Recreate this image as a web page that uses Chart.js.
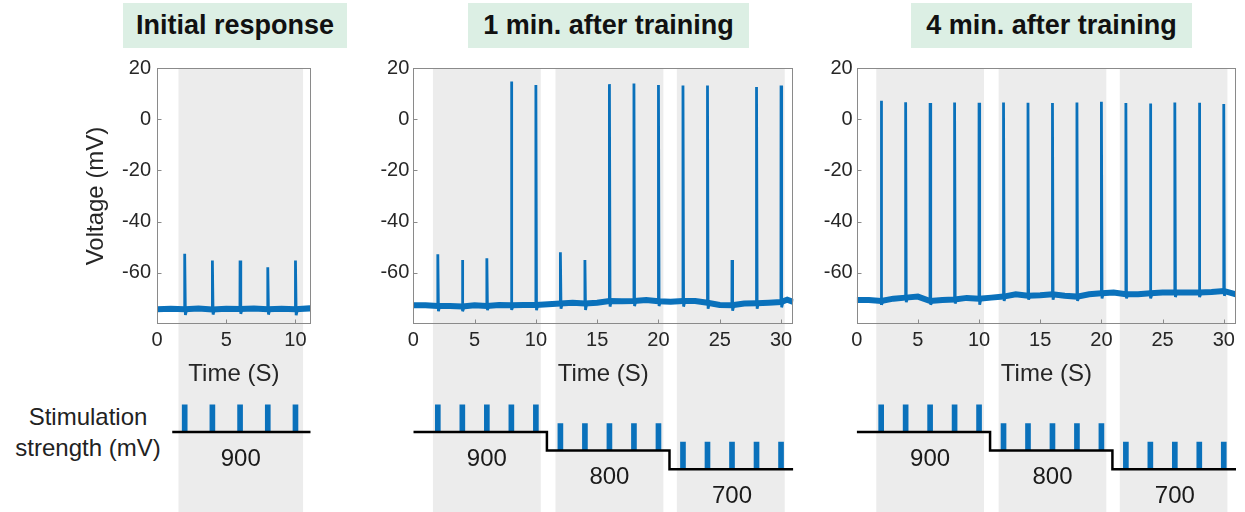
<!DOCTYPE html>
<html><head><meta charset="utf-8">
<script src="https://cdn.jsdelivr.net/npm/chart.js@4.4.1/dist/chart.umd.min.js"></script>
<style>
html,body{margin:0;padding:0;background:#fff;width:1245px;height:512px;overflow:hidden;position:relative;font-family:"Liberation Sans",Arial,Helvetica,sans-serif;}
canvas{position:absolute;}
.title{position:absolute;top:3px;height:45px;line-height:45px;background:#dcefe4;font-weight:bold;font-size:27px;text-align:center;color:#111;white-space:nowrap;}
.stim{position:absolute;left:0;top:401px;width:176px;font-size:24px;line-height:31px;text-align:center;color:#222;}
</style></head><body>
<div class="title" id="t0" style="left:123px;width:224px"></div>
<div class="title" id="t1" style="left:468px;width:281px"></div>
<div class="title" id="t2" style="left:911px;width:281px"></div>
<div class="stim" id="stimLabel"></div>
<canvas id="top0" width="320" height="390" style="left:0;top:0"></canvas>
<canvas id="bot0" width="320" height="122" style="left:0;top:390px"></canvas>
<canvas id="top1" width="462" height="390" style="left:340px;top:0"></canvas>
<canvas id="bot1" width="462" height="122" style="left:340px;top:390px"></canvas>
<canvas id="top2" width="435" height="390" style="left:810px;top:0"></canvas>
<canvas id="bot2" width="435" height="122" style="left:810px;top:390px"></canvas>
<script>
// ---------- data ----------
const titles = ['Initial response', '1 min. after training', '4 min. after training'];
const xAxisTitle = 'Time (S)';
const yAxisTitle = 'Voltage (mV)';
const stimAxisLines = ['Stimulation', 'strength (mV)'];

const yTicks = [20, 0, -20, -40, -60];
const xTicks1 = [0, 5, 10];
const xTicks2 = [0, 5, 10, 15, 20, 25, 30];

// Panel 1: initial response
const baseTimes1 = [0, 1, 2, 3, 4, 5, 6, 7, 8, 9, 10, 11, 11.1];
const baseValues1 = [-74.2, -74.0, -74.2, -73.9, -74.3, -74.0, -74.1, -73.9, -74.2, -74.0, -74.2, -73.9, -74.0];
const spikeTimes1 = [2, 4, 6, 8, 10];
const spikePeaks1 = [-52.6, -55.2, -55.2, -57.8, -55.2];
const spikeTroughs1 = [-76.5, -76.3, -76.0, -76.3, -76.6];
const bands1 = [[1.55, 10.55]];
const stimTimes1 = [2, 4, 6, 8, 10];
const stimLevels1 = [900, 900, 900, 900, 900];
const stepTimes1 = [1.1, 11.1];
const stepLevels1 = [900, 900];
const levelLabelX1 = [6.05];
const levelLabels1 = ['900'];

// Panel 2: 1 min. after training
const baseTimes2 = [0,1,2,3,4,5,6,7,8,9,10,11,12,13,14,15,16,17,18,19,20,21,22,23,24,25,26,27,28,29,30,30.5,31];
const baseValues2 = [-72.7,-72.7,-73.0,-73.0,-73.2,-72.7,-73.0,-72.6,-72.7,-72.6,-72.6,-72.3,-72.0,-71.7,-72.0,-71.7,-71.0,-71.1,-71.0,-70.6,-71.1,-71.3,-71.0,-71.0,-71.7,-72.6,-72.7,-72.0,-71.9,-71.7,-71.4,-70.5,-71.4];
const spikeTimes2 = [2, 4, 6, 8, 10, 12, 14, 16, 18, 20, 22, 24, 26, 28, 30];
const spikePeaks2 = [-52.8, -55.0, -54.3, 14.7, 13.4, -52.0, -55.0, 13.7, 13.9, 13.4, 13.2, 13.2, -55.0, 12.6, 13.2];
const spikeTroughs2 = [-75.0, -75.0, -74.6, -74.5, -74.6, -74.0, -74.5, -73.2, -73.0, -73.0, -73.2, -74.0, -74.8, -74.0, -73.5];

// Panel 3: 4 min. after training
const baseTimes3 = [0,1,2,3,4,5,6,7,8,9,10,11,12,13,14,15,16,17,18,19,20,21,22,23,24,25,26,27,28,29,30,31];
const baseValues3 = [-70.6,-70.6,-71.0,-70.1,-69.7,-69.3,-71.0,-70.6,-70.4,-69.8,-70.1,-69.7,-69.3,-68.4,-69.0,-68.8,-68.4,-69.0,-69.3,-68.4,-68.0,-67.7,-68.4,-68.4,-68.0,-67.7,-67.7,-67.7,-67.7,-67.5,-67.1,-68.4];
const spikeTimes3 = [2, 4, 6, 8, 10, 12, 14, 16, 18, 20, 22, 24, 26, 28, 30];
const spikePeaks3 = [7.2, 6.6, 6.3, 6.5, 6.4, 6.5, 6.4, 6.3, 6.5, 6.8, 6.3, 6.1, 6.5, 6.4, 5.9];
const spikeTroughs3 = [-72.5, -71.5, -72.5, -72.0, -72.5, -71.0, -70.5, -70.5, -71.0, -70.0, -70.0, -70.0, -69.5, -69.5, -69.0];

const bands23 = [[1.6, 10.4], [11.6, 20.4], [21.5, 30.3]];
const stimTimes23 = [2, 4, 6, 8, 10, 12, 14, 16, 18, 20, 22, 24, 26, 28, 30];
const stimLevels23 = [900, 900, 900, 900, 900, 800, 800, 800, 800, 800, 700, 700, 700, 700, 700];
const stepTimes23 = [0, 10.9, 20.9, 31];
const stepLevels23 = [900, 800, 700, 700];
const levelLabelX23 = [6, 16, 26];
const levelLabels23 = ['900', '800', '700'];
const pulseHeight = 145;

// ---------- styles / layout ----------
const FONT = '"Liberation Sans", Arial, Helvetica, sans-serif';
const BLUE = '#0a71bb';
const TEXT = '#262626';
const BAND = '#ececec';
const FRAME = '#8a8a8a';
Chart.defaults.font.family = FONT;
Chart.defaults.color = TEXT;

document.getElementById('t0').textContent = titles[0];
document.getElementById('t1').textContent = titles[1];
document.getElementById('t2').textContent = titles[2];
document.getElementById('stimLabel').innerHTML = stimAxisLines.join('<br>');

const panels = [
  {id: 0, areaLeft: 157, padRight: 9.3, xMax: 11.1, xTicks: xTicks1, yTitle: true, yTickPad: 6,
   baseT: baseTimes1, baseV: baseValues1, spT: spikeTimes1, spP: spikePeaks1, spTr: spikeTroughs1,
   bands: bands1, stimT: stimTimes1, stimL: stimLevels1, stepT: stepTimes1, stepL: stepLevels1,
   lblX: levelLabelX1, lbl: levelLabels1},
  {id: 1, areaLeft: 73.3, padRight: 8.7, xMax: 31, xTicks: xTicks2, yTitle: false, yTickPad: 4,
   baseT: baseTimes2, baseV: baseValues2, spT: spikeTimes2, spP: spikePeaks2, spTr: spikeTroughs2,
   bands: bands23, stimT: stimTimes23, stimL: stimLevels23, stepT: stepTimes23, stepL: stepLevels23,
   lblX: levelLabelX23, lbl: levelLabels23},
  {id: 2, areaLeft: 46.7, padRight: 9, xMax: 31, xTicks: xTicks2, yTitle: false, yTickPad: 4,
   baseT: baseTimes3, baseV: baseValues3, spT: spikeTimes3, spP: spikePeaks3, spTr: spikeTroughs3,
   bands: bands23, stimT: stimTimes23, stimL: stimLevels23, stepT: stepTimes23, stepL: stepLevels23,
   lblX: levelLabelX23, lbl: levelLabels23}
];

function bandPlugin(bands, fromTop) {
  return {
    id: 'bands',
    beforeDraw(chart) {
      const {ctx, chartArea, scales} = chart;
      const x = scales.x;
      const top = fromTop ? 0 : chartArea.top;
      ctx.save();
      ctx.fillStyle = BAND;
      for (const [a, b] of bands) {
        const xa = x.getPixelForValue(a), xb = x.getPixelForValue(b);
        ctx.fillRect(xa, top, xb - xa, chart.height - top);
      }
      ctx.restore();
    }
  };
}

const framePlugin = {
  id: 'frame',
  afterDraw(chart) {
    const {ctx, chartArea: a, scales} = chart;
    ctx.save();
    ctx.strokeStyle = FRAME;
    ctx.lineWidth = 1;
    const l = Math.round(a.left) + 0.5, t = Math.round(a.top) + 0.5;
    const r = Math.round(a.right) - 0.5, b = Math.round(a.bottom) - 0.5;
    ctx.strokeRect(l, t, r - l, b - t);
    ctx.beginPath();
    for (const tk of scales.y.ticks) {
      const py = Math.round(scales.y.getPixelForValue(tk.value)) + 0.5;
      if (py <= t + 1 || py >= b - 1) continue;
      ctx.moveTo(l, py); ctx.lineTo(l + 4, py);
    }
    for (const tk of scales.x.ticks) {
      const px = Math.round(scales.x.getPixelForValue(tk.value)) + 0.5;
      if (px <= l + 1 || px >= r - 1) continue;
      ctx.moveTo(px, b); ctx.lineTo(px, b - 4);
    }
    ctx.stroke();
    ctx.restore();
  }
};

function labelPlugin(xs, texts, levels) {
  return {
    id: 'levelLabels',
    afterDatasetsDraw(chart) {
      const {ctx, scales} = chart;
      ctx.save();
      ctx.fillStyle = '#1a1a1a';
      ctx.font = '24px ' + FONT;
      ctx.textAlign = 'center';
      ctx.textBaseline = 'middle';
      xs.forEach((xv, i) => {
        const lv = levels[i];
        ctx.fillText(texts[i], scales.x.getPixelForValue(xv), scales.y.getPixelForValue(lv) + 27);
      });
      ctx.restore();
    }
  };
}

panels.forEach(p => {
  const basePts = p.baseT.map((t, i) => ({x: t, y: p.baseV[i]}));
  const spikePts = [];
  p.spT.forEach((t, i) => {
    const b = p.baseV[p.baseT.indexOf(t)];
    spikePts.push({x: t - 0.01, y: b}, {x: t, y: p.spP[i]}, {x: t + 0.05, y: p.spTr[i]}, {x: t + 0.15, y: b}, {x: t + 0.16, y: null});
  });

  new Chart(document.getElementById('top' + p.id), {
    type: 'line',
    data: {datasets: [
      {data: spikePts, borderColor: BLUE, borderWidth: 2.8, pointRadius: 0, tension: 0, spanGaps: false, borderJoinStyle: 'bevel'},
      {data: basePts, borderColor: BLUE, borderWidth: 6, pointRadius: 0, tension: 0}
    ]},
    options: {
      responsive: false, animation: false, events: [],
      layout: {padding: {top: 68, left: 0, right: p.padRight, bottom: 0}},
      plugins: {legend: {display: false}, tooltip: {enabled: false}},
      scales: {
        x: {type: 'linear', min: 0, max: p.xMax,
            afterBuildTicks: s => { s.ticks = p.xTicks.map(v => ({value: v})); },
            afterFit: s => { s.height = 66; },
            grid: {display: false, drawTicks: false}, border: {display: false},
            ticks: {padding: 4, font: {size: 20}, color: TEXT, maxRotation: 0, autoSkip: false},
            title: {display: true, text: xAxisTitle, font: {size: 24}, color: TEXT, padding: {top: 0, bottom: 1.6}}},
        y: {type: 'linear', min: -80, max: 20,
            afterBuildTicks: s => { s.ticks = yTicks.map(v => ({value: v})); },
            afterFit: s => { s.width = p.areaLeft; },
            grid: {display: false, drawTicks: false}, border: {display: false},
            ticks: {padding: p.yTickPad, font: {size: 20}, color: TEXT},
            title: {display: p.yTitle, text: yAxisTitle, font: {size: 24}, color: TEXT, padding: {top: 82, bottom: 0}}}
      }
    },
    plugins: [bandPlugin(p.bands, false), framePlugin]
  });

  const stepPts = p.stepT.map((t, i) => ({x: t, y: p.stepL[i]}));
  const pulsePts = p.stimT.map((t, i) => ({x: t, y: [p.stimL[i], p.stimL[i] + pulseHeight]}));
  const lblLevels = p.lblX.map(xv => {
    let lv = p.stepL[0];
    p.stepT.forEach((t, i) => { if (xv >= t) lv = p.stepL[i]; });
    return lv;
  });

  new Chart(document.getElementById('bot' + p.id), {
    type: 'line',
    data: {datasets: [
      {type: 'line', data: stepPts, stepped: 'before', borderColor: '#000', borderWidth: 2.5, pointRadius: 0, borderJoinStyle: 'miter'},
      {type: 'bar', data: pulsePts, backgroundColor: BLUE, barThickness: 5, borderWidth: 0}
    ]},
    options: {
      responsive: false, animation: false, events: [],
      layout: {padding: {top: 0, left: p.areaLeft, right: p.padRight, bottom: 0}},
      plugins: {legend: {display: false}, tooltip: {enabled: false}},
      scales: {
        x: {type: 'linear', min: 0, max: p.xMax, display: false, offset: false},
        y: {type: 'linear', min: 470, max: 1125, display: false}
      }
    },
    plugins: [bandPlugin(p.bands, true), labelPlugin(p.lblX, p.lbl, lblLevels)]
  });
});
</script>
</body></html>
